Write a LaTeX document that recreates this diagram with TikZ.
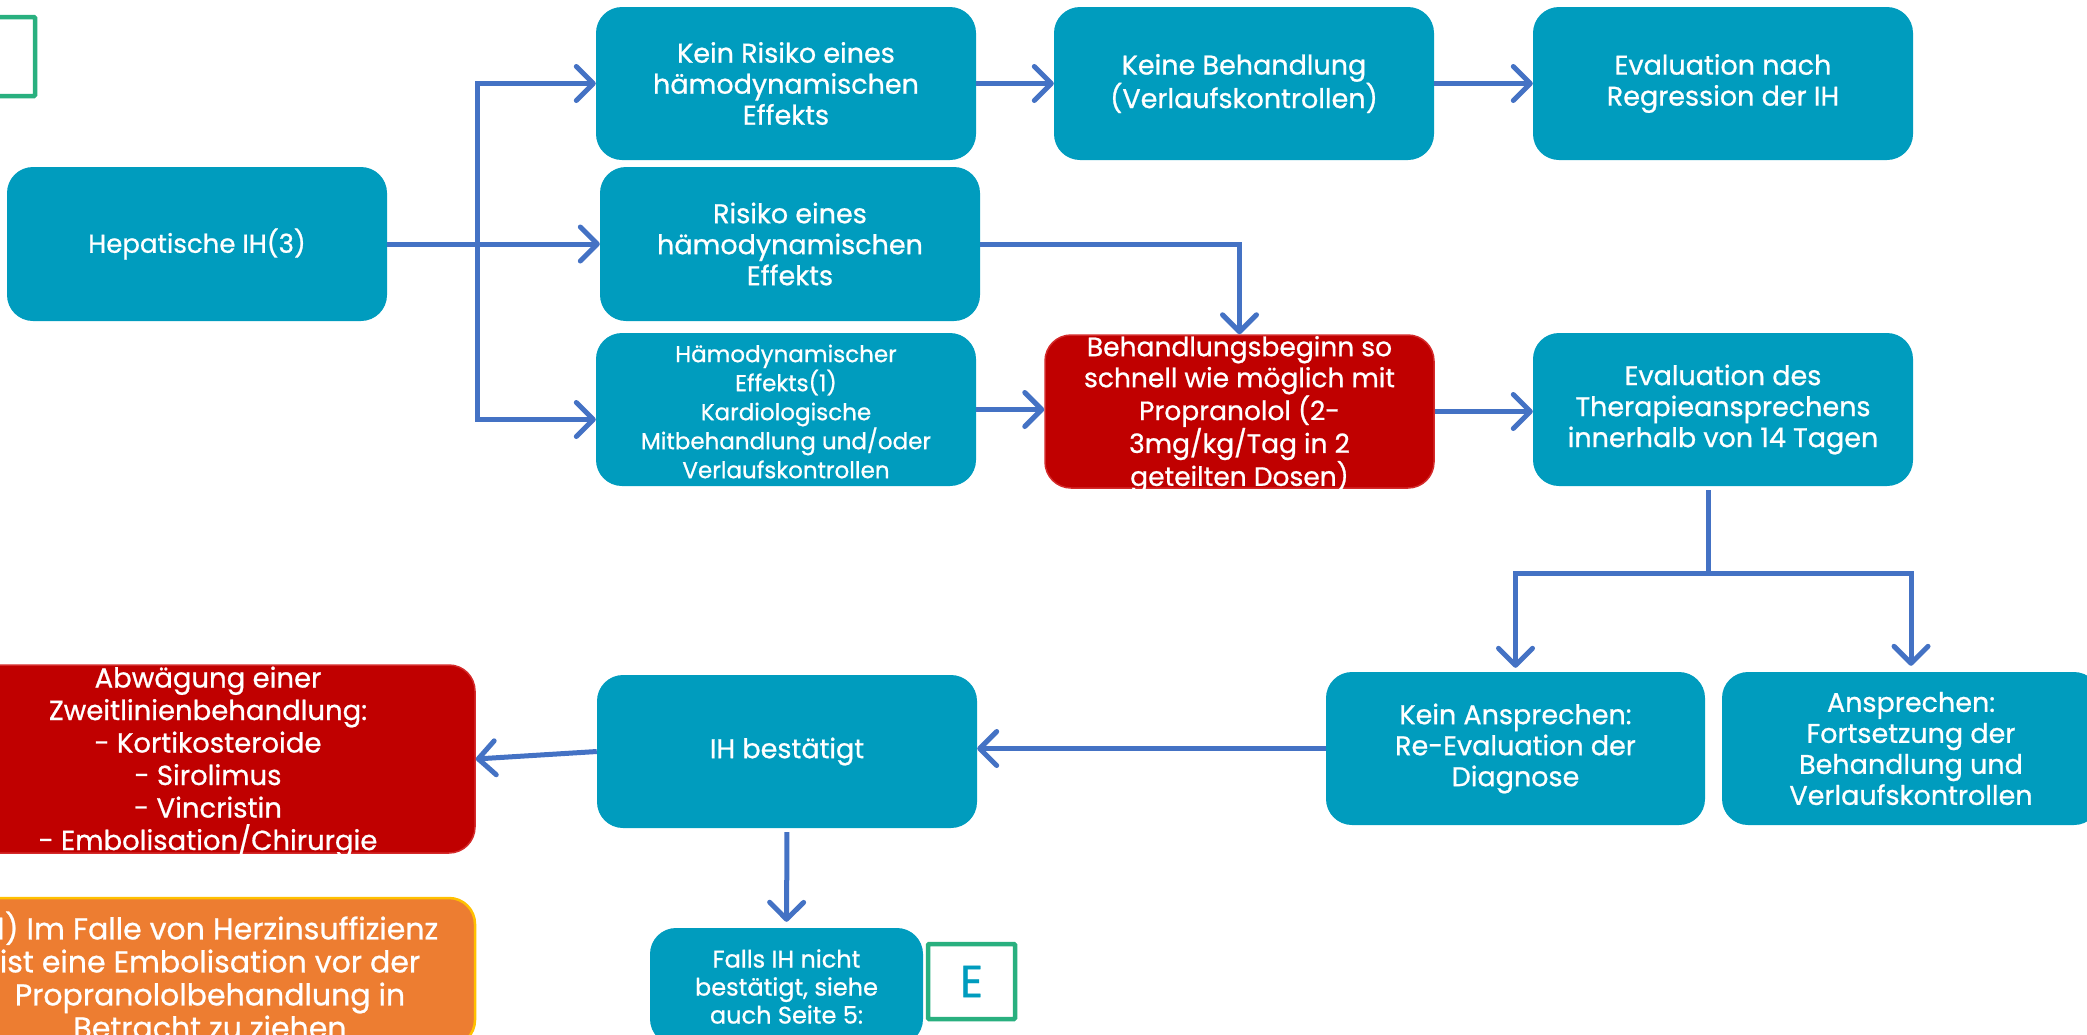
\documentclass[tikz,border=0pt]{standalone}
\usepackage{fontspec}
\setmainfont{Poppins}[FakeBold=0.8]
\usetikzlibrary{calc, arrows.meta}
\definecolor{CajaAzul}{HTML}{009CBE}
\definecolor{CajaRoja}{HTML}{C00000}
\definecolor{BordeRojo}{HTML}{D42A2A}
\definecolor{CajaNaranja}{HTML}{ED7D31}
\definecolor{BordeNaranja}{HTML}{FFC000}
\definecolor{Flecha}{HTML}{4472C4}
\definecolor{Marco}{HTML}{29B07F}
\tikzset{
    tam/.style 2 args={minimum width=#1pt, minimum height=#2pt},
    caja/.style={
        rounded corners=26pt, fill=CajaAzul, text=white, align=center,
        inner sep=0pt, font=\fontsize{27}{31}\selectfont
    },
    cajaroja/.style={caja, fill=CajaRoja, draw=BordeRojo, line width=1.5pt},
    cajanaranja/.style={caja, fill=CajaNaranja, draw=BordeNaranja, line width=2.5pt},
    texto/.style={text=white, align=center, inner sep=0pt},
    marco/.style={draw=Marco, line width=4.5pt, rounded corners=1pt, inner sep=0pt},
    linea/.style={draw=Flecha, line width=5pt},
    flecha/.style={linea, -{Straight Barb[round, length=17pt, width=34pt]}},
}

\begin{document}
\begin{tikzpicture}[x=1pt, y=-1pt]
\useasboundingbox (0,0) rectangle (2087,1034);

% Cajas de la primera columna
\node[marco, tam={85}{79}] (marcoA) at (-7.5,56.5) {};
\node[caja, tam={380}{154}, font=\fontsize{26}{31}\selectfont] (hep) at (197,244) {Hepatische IH(3)};

% Tres ramas
\node[caja, tam={380}{153}] (keinrisiko) at (786,83.5)
    {Kein Risiko eines\\hämodynamischen\\Effekts};
\node[caja, tam={380}{154}] (risiko) at (790,244)
    {Risiko eines\\hämodynamischen\\Effekts};
\node[caja, tam={380}{153}, label={[texto, font=\fontsize{23}{29}\selectfont, yshift=-2pt]center:{%
    Hämodynamischer\\Effekts(1)\\Kardiologische\\Mitbehandlung und/oder\\Verlaufskontrollen}}]
    (haemo) at (786,409.5) {};

\node[caja, tam={380}{153}] (keinebeh) at (1244,83.5)
    {Keine Behandlung\\(Verlaufskontrollen)};
\node[caja, tam={380}{153}] (evalnach) at (1723,83.5)
    {Evaluation nach\\Regression der IH};

\node[cajaroja, tam={389}{153}, label={[texto, font=\fontsize{26.5}{31}\selectfont, yshift=-3pt]center:{%
    Behandlungsbeginn so\\schnell wie möglich mit\\Propranolol (2-\\3mg/kg/Tag in 2\\geteilten Dosen)}}]
    (start) at (1239.5,411.5) {};
\node[caja, tam={380}{153}] (evaldes) at (1723,409.5)
    {Evaluation des\\Therapieansprechens\\innerhalb von 14 Tagen};

% Ansprechen
\node[caja, tam={379}{153}] (keinansp) at (1515.5,748.5)
    {Kein Ansprechen:\\Re-Evaluation der\\Diagnose};
\node[caja, tam={378}{153}] (ansp) at (1911,748.5)
    {Ansprechen:\\Fortsetzung der\\Behandlung und\\Verlaufskontrollen};

\node[caja, tam={380}{153}] (ihbest) at (787,751.5) {IH bestätigt};
\node[caja, tam={273}{117}, font=\fontsize{24}{28}\selectfont] (falls) at (786.5,986.5)
    {Falls IH nicht\\bestätigt, siehe\\auch Seite 5:};
\node[marco, tam={87}{75}, text=CajaAzul, font=\fontsize{45}{45}\selectfont] (marcoE) at (971.5,981.5) {E};

\node[cajaroja, tam={534}{188}, label={[texto, font=\fontsize{27.5}{32.5}\selectfont, yshift=-3pt]center:{%
    Abwägung einer\\Zweitlinienbehandlung:\\- Kortikosteroide\\- Sirolimus\\- Vincristin\\- Embolisation/Chirurgie}}]
    (abwaeg) at (208,759) {};
\node[cajanaranja, tam={534}{148}, label={[texto, font=\fontsize{30}{33}\selectfont, xshift=2pt, yshift=-3pt]center:{%
    (1) Im Falle von Herzinsuffizienz\\ist eine Embolisation vor der\\Propranololbehandlung in\\Betracht zu ziehen}}]
    (nota) at (208,972) {};

% Conectores
\coordinate (gabel) at ($(hep.east)+(90,0)$);
\draw[linea] (hep.east) -- (gabel);
\draw[flecha] (gabel) |- (keinrisiko.west);
\draw[flecha] (gabel) -- (risiko.west);
\draw[flecha] (gabel) |- ($(haemo.west)+(0,10)$);

\draw[flecha] (keinrisiko) -- (keinebeh);
\draw[flecha] (keinebeh) -- (evalnach);
\draw[flecha] (risiko.east) -| (start.north);
\draw[flecha] (haemo) -- (haemo -| start.west);
\draw[flecha] (start.east) -- (start.east -| evaldes.west);

\coordinate (verz) at ($(evaldes.south)+(-15,87)$);
\draw[linea] ($(evaldes.south)+(-15,4)$) -- (verz);
\draw[flecha, shorten >=4pt] (verz) -| (keinansp.north);
\draw[flecha, shorten >=6pt] (verz) -| (ansp.north);

\draw[flecha] (keinansp.west) -- (keinansp.west -| ihbest.east);
\draw[flecha] (ihbest.west) -- (abwaeg.east);
\draw[flecha, shorten <=4pt, shorten >=6pt] (ihbest.south) -- (falls.north);
\end{tikzpicture}
\end{document}
